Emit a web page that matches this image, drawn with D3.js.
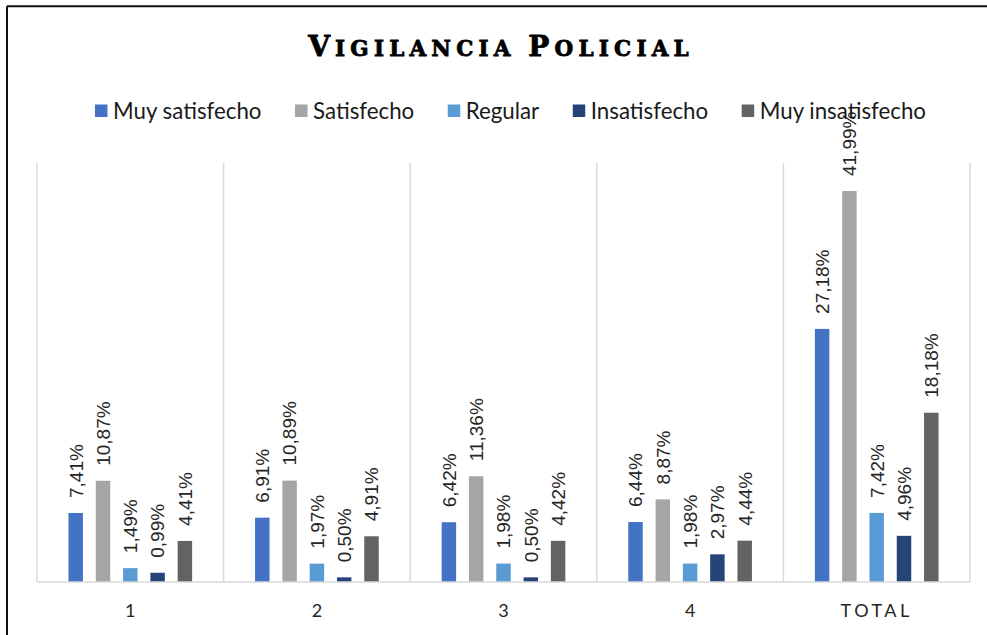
<!DOCTYPE html>
<html>
<head>
<meta charset="utf-8">
<script src="https://cdn.jsdelivr.net/npm/d3@7"></script>
<style>
html,body{margin:0;padding:0;background:#fff;}
svg{display:block;}
</style>
</head>
<body>
<svg id="chart" width="987" height="635"></svg>
<script>
const categories = ["1", "2", "3", "4", "TOTAL"];
const seriesNames = ["Muy satisfecho", "Satisfecho", "Regular", "Insatisfecho", "Muy insatisfecho"];
const muySatisfecho   = [7.41, 6.91, 6.42, 6.44, 27.18];
const satisfecho      = [10.87, 10.89, 11.36, 8.87, 41.99];
const regular         = [1.49, 1.97, 1.98, 1.98, 7.42];
const insatisfecho    = [0.99, 0.50, 0.50, 2.97, 4.96];
const muyInsatisfecho = [4.41, 4.91, 4.42, 4.44, 18.18];
const colors = ["#4472C4", "#A5A5A5", "#5B9BD5", "#264478", "#636363"];
const titleParts = [["V", true], ["IGILANCIA ", false], ["P", true], ["OLICIAL", false]];

const seriesValues = [muySatisfecho, satisfecho, regular, insatisfecho, muyInsatisfecho];

const svg = d3.select("#chart");
const W = 987, H = 635;
const plot = {left: 37, right: 970, top: 163, bottom: 582};

// frame
svg.append("line").attr("x1", 7).attr("y1", 6.3).attr("x2", W).attr("y2", 6.3)
  .attr("stroke", "#111").attr("stroke-width", 2);
svg.append("line").attr("x1", 7).attr("y1", 6.3).attr("x2", 7).attr("y2", H)
  .attr("stroke", "#111").attr("stroke-width", 2);

// title
const title = svg.append("text")
  .attr("x", 501).attr("y", 56)
  .attr("text-anchor", "middle")
  .attr("font-family", "'DejaVu Serif', serif")
  .attr("font-weight", "bold")
  .attr("letter-spacing", 5.2)
  .attr("fill", "#000")
  .attr("stroke", "#000").attr("stroke-width", 0.8);
titleParts.forEach(([t, big]) => {
  title.append("tspan").attr("font-size", big ? 28 : 21.5).text(t);
});

// scales
const x0 = d3.scaleBand().domain(categories).range([plot.left, plot.right]).padding(0);
const groupW = 136.5;
const x1 = d3.scaleBand().domain(seriesNames)
  .range([x0.bandwidth() / 2 - groupW / 2, x0.bandwidth() / 2 + groupW / 2])
  .paddingInner(0.47).paddingOuter(0.235);
const y = d3.scaleLinear().domain([0, 45]).range([plot.bottom, plot.top]);

// vertical gridlines at category boundaries
const bounds = categories.map(c => x0(c)).concat([plot.right]);
svg.append("g").selectAll("line").data(bounds).join("line")
  .attr("x1", d => d).attr("x2", d => d)
  .attr("y1", plot.top).attr("y2", plot.bottom)
  .attr("stroke", "#d9d9d9").attr("stroke-width", 1.5);

// bars
const groups = svg.append("g").selectAll("g").data(categories).join("g")
  .attr("transform", c => `translate(${x0(c)},0)`);

groups.each(function(c, ci) {
  const g = d3.select(this);
  const data = seriesNames.map((s, si) => ({s, si, v: seriesValues[si][ci]}));
  g.selectAll("rect").data(data).join("rect")
    .attr("x", d => x1(d.s))
    .attr("width", x1.bandwidth())
    .attr("y", d => y(d.v))
    .attr("height", d => y(0) - y(d.v))
    .attr("fill", d => colors[d.si]);
  g.selectAll("text.lbl").data(data).join("text")
    .attr("class", "lbl")
    .attr("transform", d => `translate(${x1(d.s) + x1.bandwidth() / 2},${y(d.v) - 15}) rotate(-90)`)
    .attr("dy", "0.36em")
    .attr("font-family", "'Liberation Sans', Arial, sans-serif")
    .attr("font-size", 19)
    .attr("fill", "#262626")
    .text(d => d.v.toFixed(2).replace(".", ",") + "%");
});

// baseline
svg.append("line").attr("x1", plot.left).attr("x2", plot.right)
  .attr("y1", plot.bottom).attr("y2", plot.bottom)
  .attr("stroke", "#d9d9d9").attr("stroke-width", 1.5);

// x axis labels
const xAxis = d3.axisBottom(x0).tickSize(0).tickPadding(0);
const ax = svg.append("g").attr("transform", `translate(0,${plot.bottom})`).call(xAxis);
ax.select(".domain").remove();
ax.selectAll("text")
  .attr("y", 35)
  .attr("dy", 0)
  .attr("font-family", "Lato, 'Liberation Sans', sans-serif")
  .attr("font-size", 18)
  .attr("fill", "#262626")
  .attr("letter-spacing", d => d === "TOTAL" ? 3.5 : 0);

// legend
const legend = svg.append("g");
const items = legend.selectAll("g").data(seriesNames).join("g");
items.append("rect").attr("width", 12.5).attr("height", 12.5).attr("y", -6.5)
  .attr("fill", (d, i) => colors[i]);
items.append("text").attr("x", 18).attr("dy", "0.35em")
  .attr("font-family", "Lato, 'Open Sans', sans-serif")
  .attr("font-size", 22.3)
  .attr("fill", "#1a1a1a")
  .text(d => d);
let widths = [];
items.each(function() {
  widths.push(18 + d3.select(this).select("text").node().getComputedTextLength());
});
const gapL = 33.5;
const total = d3.sum(widths) + gapL * (widths.length - 1);
let cx = 510.5 - total / 2;
items.each(function(d, i) {
  d3.select(this).attr("transform", `translate(${cx},111)`);
  cx += widths[i] + gapL;
});
</script>
</body>
</html>
